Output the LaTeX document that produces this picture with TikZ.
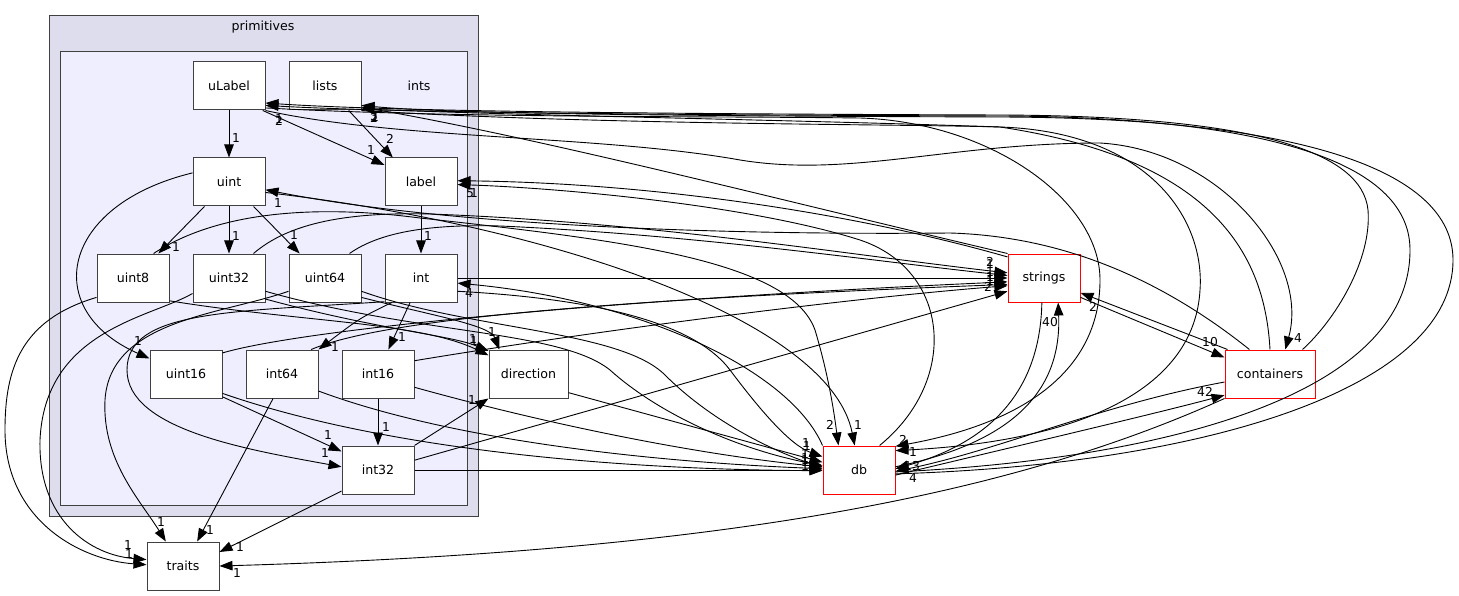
\documentclass[tikz,border=0pt]{standalone}
\usepackage{fontspec}
\setmainfont{DejaVu Sans}
\usetikzlibrary{arrows.meta}
\definecolor{boxgray}{HTML}{404040}
\definecolor{outerfill}{HTML}{DDDDEE}
\definecolor{innerfill}{HTML}{EEEEFF}

\begin{document}
\begin{tikzpicture}[x=1pt, y=-1pt, line width=0.9pt,
    dirbox/.style={draw=boxgray, fill=white, line width=1pt, minimum width=72pt, minimum height=48pt, inner sep=0pt, font=\fontsize{12.6}{14}\selectfont},
    extbox/.style={dirbox, draw=red},
    cnt/.style={inner sep=0pt, font=\fontsize{12.3}{13}\selectfont},
    dep/.style={-{Triangle[length=13pt,width=9.5pt]}}]
    \useasboundingbox (0,0) rectangle (1459,596);
    \draw[boxgray, line width=1pt, fill=outerfill] (49,16) rectangle (478,516);
    \node[font=\fontsize{12.6}{14}\selectfont] (primname) at (263,27) {primitives};
    \draw[boxgray, line width=1pt, fill=innerfill] (60,52) rectangle (467,505);
    \node[font=\fontsize{12.6}{14}\selectfont] (intsname) at (419,86) {ints};

    \node[dirbox] (ulabel) at (229,86) {uLabel};
    \node[dirbox] (lists) at (325,86) {lists};
    \node[dirbox] (uint) at (229,182) {uint};
    \node[dirbox] (lab) at (421,182) {label};
    \node[dirbox] (uint8) at (133,278) {uint8};
    \node[dirbox] (uint32) at (229,278) {uint32};
    \node[dirbox] (uint64) at (325,278) {uint64};
    \node[dirbox] (int) at (421,278) {int};
    \node[dirbox] (uint16) at (186,374) {uint16};
    \node[dirbox] (int64) at (282,374) {int64};
    \node[dirbox] (int16) at (378,374) {int16};
    \node[dirbox] (int32) at (378,470) {int32};
    \node[dirbox] (traits) at (183,566) {traits};
    \node[dirbox, minimum width=79pt] (direction) at (528.5,374) {direction};
    \node[extbox] (db) at (859,470) {db};
    \node[extbox] (strings) at (1044,278) {strings};
    \node[extbox, minimum width=90pt] (containers) at (1270,374) {containers};

    % inside ints
    \draw[dep] (ulabel) -- (uint);
    \draw[dep] (ulabel.-36) -- (lab.155);
    \draw[dep] (lists.-46) -- (lab.139);
    \draw[dep] (uint.-135) -- (uint8.44);
    \draw[dep] (uint) -- (uint32);
    \draw[dep] (uint.-45) -- (uint64.136);
    \draw[dep] (uint.166) .. controls (60,205) and (40,310) .. (uint16.157);
    \draw[dep] (lab) -- (int);
    \draw[dep] (int.-114) -- (int16.67);
    \draw[dep] (int.-140) .. controls (360,318) .. (int64.north east);
    \draw[dep] (uint16.-32) -- (int32.153);
    \draw[dep] (int16) -- (int32);
    \draw[dep] (int.-147) .. controls (230,312) and (127,310) .. (127,370) .. controls (127,430) and (250,450) .. (int32.175);

    % traits
    \draw[dep] (int64.-110) -- (traits.60);
    \draw[dep] (int32.-150) -- (traits.21);
    \draw[dep] (uint8.-152) .. controls (20,320) and (5,370) .. (5,430) .. controls (5,520) and (80,560) .. (traits.178);
    \draw[dep] (uint32.-157) .. controls (150,318) and (45,330) .. (40,440) .. controls (38,520) and (90,555) .. (traits.170);
    \draw[dep] (uint64.-160) .. controls (220,315) and (110,320) .. (105,400) .. controls (102,460) and (140,500) .. (traits.125);
    \draw[dep] (containers.south west) .. controls (1000,500) and (700,552) .. (traits.east);

    % direction
    \draw[dep] (uint8.-32) .. controls (300,322) and (420,322) .. (direction.155);
    \draw[dep] (uint32.-30) .. controls (380,330) and (450,335) .. (direction.150);
    \draw[dep] (uint64.-28) .. controls (430,315) and (490,325) .. (direction.140);
    \draw[dep] (int32.north east) -- (direction.south west);
    \draw[dep] (direction.-25) -- (db.168);

    % db
    \draw[dep] (uint32.-20) .. controls (420,335) and (560,330) .. (610,370) .. controls (660,415) and (740,450) .. (db.173);
    \draw[dep] (uint64.-20) .. controls (470,330) and (620,330) .. (665,375) .. controls (710,420) and (770,450) .. (db.176);
    \draw[dep] (int.-20) .. controls (620,300) and (700,330) .. (730,370) .. controls (760,410) and (790,445) .. (db.160);
    \draw[dep] (uint16.-28) .. controls (400,455) and (650,470) .. (db.181);
    \draw[dep] (int64.-25) .. controls (450,440) and (650,462) .. (db.178);
    \draw[dep] (int16.-20) .. controls (550,425) and (700,455) .. (db.175);
    \draw[dep] (int32) -- (db);
    \draw[dep] (uint8.50) .. controls (220,210) and (320,205) .. (420,218) .. controls (620,240) and (790,260) .. (815,330) .. controls (830,380) and (835,420) .. (db.130);
    \draw[dep] (uint.-16) .. controls (550,225) and (830,320) .. (db.100);
    \draw[dep] (db.north west) .. controls (790,370) and (640,300) .. (int.-8);

    % strings
    \draw[dep] (uint32.45) .. controls (290,222) and (350,212) .. (430,214) .. controls (650,222) and (850,255) .. (strings.172);
    \draw[dep] (uint64.45) .. controls (380,232) and (430,224) .. (500,226) .. controls (700,235) and (880,262) .. (strings.176);
    \draw[dep] (int) -- (strings);
    \draw[dep] (uint16.30) .. controls (300,330) and (600,300) .. (strings.-174);
    \draw[dep] (int64.40) .. controls (380,320) and (600,300) .. (strings.-170);
    \draw[dep] (int16.20) .. controls (600,330) and (850,298) .. (strings.-168);
    \draw[dep] (int32.15) -- (strings.-160);

    \draw[dep] (strings.-28) -- (containers.160);
    \draw[dep] (containers.150) -- (strings.-22);
    \draw[dep] (strings.-95) .. controls (1040,400) and (980,445) .. (db.2);
    \draw[dep] (db.5) .. controls (1000,445) and (1062,400) .. (strings.-60);
    \draw[dep] (db.-8) .. controls (1000,450) and (1150,415) .. (containers.-155);
    \draw[dep] (containers.-170) .. controls (1100,405) and (1000,450) .. (db.-2);

    % long loops
    \draw[dep] (containers.37) .. controls (1335,320) and (1372,260) .. (1368,210) .. controls (1362,150) and (1250,116) .. (1000,115) .. controls (700,114) and (400,112) .. (ulabel.-25);
    \draw[dep] (db.-3) .. controls (1150,460) and (1410,400) .. (1410,250) .. controls (1410,160) and (1260,117) .. (1000,116) .. controls (700,115) and (400,113) .. (ulabel.-28);
    \draw[dep] (db.-6) .. controls (1200,465) and (1453,390) .. (1453,260) .. controls (1453,170) and (1300,118) .. (1000,117) .. controls (700,116) and (450,114) .. (lists.-28);
    \draw[dep] (containers.north) .. controls (1265,260) and (1220,160) .. (1000,127) .. controls (800,120) and (500,115) .. (lists.-32);
    \draw[dep] (ulabel.south east) .. controls (400,140) and (600,135) .. (740,160) .. controls (850,178) and (950,143) .. (1100,143) .. controls (1220,150) and (1310,260) .. (containers.58);
    \draw[dep] (ulabel.-31) .. controls (450,118) and (700,116) .. (860,118) .. controls (990,122) and (1100,200) .. (1100,280) .. controls (1100,360) and (1040,420) .. (db.33);
    \draw[dep] (lists.-34) .. controls (600,125) and (900,124) .. (1000,127) .. controls (1150,132) and (1205,220) .. (1200,290) .. controls (1195,380) and (1100,440) .. (db.28);
    \draw[dep] (strings.north west) .. controls (800,205) and (550,140) .. (lists.-30);
    \draw[dep] (strings.150) .. controls (850,212) and (650,183) .. (lab.2);
    \draw[dep] (db.50) .. controls (960,380) and (950,270) .. (860,240) .. controls (750,205) and (560,188) .. (lab.-4);
    \draw[dep] (containers.130) .. controls (1150,270) and (1050,236) .. (950,233) .. controls (750,235) and (460,228) .. (uint.-12);

    % counts
    \node[cnt] (c1) at (236,138) {1};
    \node[cnt] (c2) at (371,150) {1};
    \node[cnt] (c3) at (390,139) {2};
    \node[cnt] (c4) at (176,247) {1};
    \node[cnt] (c5) at (236,236) {1};
    \node[cnt] (c6) at (294,235) {1};
    \node[cnt] (c7) at (138,341) {1};
    \node[cnt] (c8) at (428,236) {1};
    \node[cnt] (c9) at (402,337) {1};
    \node[cnt] (c10) at (335,347) {1};
    \node[cnt] (c11) at (328,435) {1};
    \node[cnt] (c12) at (386,427) {1};
    \node[cnt] (c13) at (325,453) {1};
    \node[cnt] (c14) at (210,530) {1};
    \node[cnt] (c15) at (240,547) {1};
    \node[cnt] (c16) at (129,554) {1};
    \node[cnt] (c17) at (128,545) {1};
    \node[cnt] (c18) at (161,522) {1};
    \node[cnt] (c19) at (237,573) {1};
    \node[cnt] (c20) at (473,339) {1};
    \node[cnt] (c21) at (474,341) {1};
    \node[cnt] (c22) at (492,332) {1};
    \node[cnt] (c23) at (472,400) {1};
    \node[cnt] (c24) at (806,443) {1};
    \node[cnt] (c25) at (807,446) {1};
    \node[cnt] (c26) at (805,454) {1};
    \node[cnt] (c27) at (805,458) {1};
    \node[cnt] (c28) at (805,462) {1};
    \node[cnt] (c29) at (805,466) {1};
    \node[cnt] (c30) at (805,460) {1};
    \node[cnt] (c31) at (830,425) {2};
    \node[cnt] (c32) at (858,425) {1};
    \node[cnt] (c33) at (469,293) {4};
    \node[cnt] (c34) at (990,262) {2};
    \node[cnt] (c35) at (990,264) {1};
    \node[cnt] (c36) at (990,272) {1};
    \node[cnt] (c37) at (990,277) {1};
    \node[cnt] (c38) at (990,281) {1};
    \node[cnt] (c39) at (988,287) {2};
    \node[cnt] (c40) at (1210,342) {10};
    \node[cnt] (c41) at (1093,307) {2};
    \node[cnt] (c42) at (1050,322) {40};
    \node[cnt] (c43) at (1205,392) {42};
    \node[cnt] (c44) at (912,466) {13};
    \node[cnt] (c45) at (913,478) {4};
    \node[cnt] (c46) at (913,452) {1};
    \node[cnt] (c47) at (903,440) {2};
    \node[cnt] (c48) at (279,119) {1};
    \node[cnt] (c49) at (279,121) {2};
    \node[cnt] (c50) at (374,116) {3};
    \node[cnt] (c51) at (375,117) {1};
    \node[cnt] (c52) at (374,118) {2};
    \node[cnt] (c53) at (1298,338) {4};
    \node[cnt] (c54) at (470,193) {5};
    \node[cnt] (c55) at (474,193) {1};
    \node[cnt] (c56) at (278,203) {1};
\end{tikzpicture}
\end{document}
